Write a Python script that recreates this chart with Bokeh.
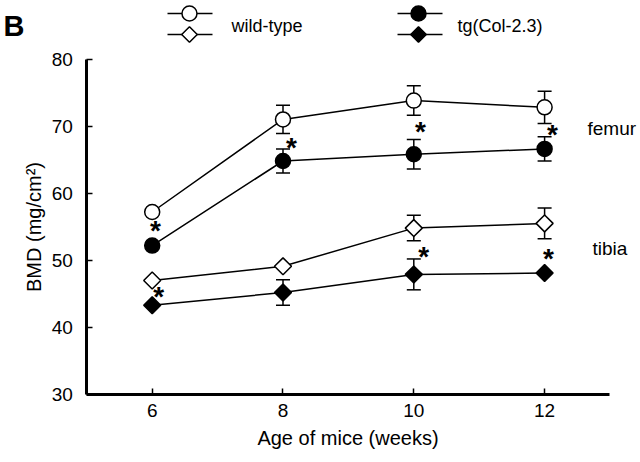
import numpy as np
from bokeh.plotting import figure
from bokeh.models import ColumnDataSource, Whisker, TeeHead, Range1d, FixedTicker
from bokeh.core.properties import value
from bokeh.embed import file_html
from bokeh.resources import INLINE

# ---- data ----
weeks = [6, 8, 10, 12]
wt_femur = [57.2, 71.0, 73.8, 72.8]
wt_femur_err = [0, 2.1, 2.2, 2.4]
tg_femur = [52.2, 64.8, 65.8, 66.6]
tg_femur_err = [0, 1.8, 2.2, 1.8]
wt_tibia = [47.0, 49.1, 54.8, 55.5]
wt_tibia_err = [0, 0, 1.9, 2.3]
tg_tibia = [43.3, 45.2, 47.9, 48.1]
tg_tibia_err = [0, 1.9, 2.3, 0]
star_x = [6.05, 8.13, 10.10, 12.12, 6.10, 10.15, 12.06]
star_y = [54.74, 67.1, 69.45, 69.09, 44.9, 50.86, 50.57]
x_ticks = [6, 8, 10, 12]
y_ticks = [30, 40, 50, 60, 70, 80]

FONT = "Liberation Sans"

p = figure(width=640, height=462, x_range=Range1d(3.6804, 13.4664), y_range=Range1d(19.866, 88.72),
           output_backend="svg", toolbar_location=None,
           min_border_left=0, min_border_right=0, min_border_top=0, min_border_bottom=0)
p.outline_line_color = None
p.xgrid.grid_line_color = None
p.ygrid.grid_line_color = None
p.background_fill_color = "white"
p.border_fill_color = "white"

for ax, ticks, bounds, loc in ((p.xaxis[0], x_ticks, (5, 13), 30), (p.yaxis[0], y_ticks, (30, 80), 5)):
    ax.fixed_location = loc
    ax.ticker = FixedTicker(ticks=ticks)
    ax.bounds = bounds
    ax.axis_line_width = 3
    ax.axis_line_color = "black"
    ax.major_tick_in = 6
    ax.major_tick_out = 0
    ax.major_tick_line_width = 1.5
    ax.major_tick_line_color = "black"
    ax.minor_tick_line_color = None
    ax.major_label_text_font = FONT
    ax.major_label_text_font_size = "19px"
    ax.major_label_text_color = "black"
    ax.axis_label_text_font = FONT
    ax.axis_label_text_font_size = "20px"
    ax.axis_label_text_font_style = "normal"
    ax.axis_label_text_color = "black"

p.xaxis.axis_label = "Age of mice (weeks)"
p.yaxis.axis_label = "BMD (mg/cm²)"
p.xaxis.major_label_standoff = 9
p.xaxis.axis_label_standoff = 7
p.yaxis.major_label_standoff = 14
p.yaxis.axis_label_standoff = 3

series = [
    (wt_femur, wt_femur_err, "circle", 15, "white", 0),
    (tg_femur, tg_femur_err, "circle", 15, "black", 0),
    (wt_tibia, wt_tibia_err, "square", 12, "white", np.pi / 4),
    (tg_tibia, tg_tibia_err, "square", 12, "black", np.pi / 4),
]

for vals, errs, marker, size, fill, ang in series:
    keep = [i for i, e in enumerate(errs) if e > 0]
    if keep:
        src = ColumnDataSource(dict(
            x=[weeks[i] for i in keep],
            upper=[vals[i] + errs[i] for i in keep],
            lower=[vals[i] - errs[i] for i in keep]))
        w = Whisker(source=src, base="x", upper="upper", lower="lower", dimension="height",
                    line_color="black", line_width=1.5, level="underlay",
                    upper_head=TeeHead(size=14, line_width=1.5, line_color="black"),
                    lower_head=TeeHead(size=14, line_width=1.5, line_color="black"))
        p.add_layout(w)
    p.line(weeks, vals, line_color="black", line_width=1.5)
    p.scatter(weeks, vals, marker=marker, size=size, angle=ang, fill_color=fill,
              line_color="black", line_width=1.5)

# significance asterisks
p.text(x=star_x, y=star_y, text=["*"] * len(star_x), text_font=value(FONT),
       text_font_size="28px", text_font_style="bold", text_align="center",
       text_baseline="alphabetic", y_offset=2, text_color="black")

# tissue labels
p.text(x=[12.656, 12.733], y=[69.6, 51.8], text=["femur", "tibia"], text_font=value(FONT),
       text_font_size="19px", text_align="left", text_baseline="middle", text_color="black")

# legend
for (x0, x1, xc, fill) in ((6.234, 6.922, 6.57, "white"), (9.751, 10.439, 10.072, "black")):
    p.line([x0, x1], [86.78, 86.78], line_color="black", line_width=1.5)
    p.scatter([xc], [86.78], marker="circle", size=15, fill_color=fill, line_color="black", line_width=1.5)
    p.line([x0, x1], [83.65, 83.65], line_color="black", line_width=1.5)
    p.scatter([xc], [83.65], marker="square", angle=np.pi / 4, size=11, fill_color=fill,
              line_color="black", line_width=1.5)
p.text(x=[7.213, 10.668], y=[84.99, 84.99], text=["wild-type", "tg(Col-2.3)"], text_font=value(FONT),
       text_font_size="18px", text_align="left", text_baseline="middle", text_color="black")

# panel letter
p.text(x=[3.726], y=[84.85], text=["B"], text_font=value(FONT), text_font_size="29px",
       text_font_style="bold", text_align="left", text_baseline="alphabetic", text_color="black")

open("out.html", "w").write(file_html(p, INLINE))
